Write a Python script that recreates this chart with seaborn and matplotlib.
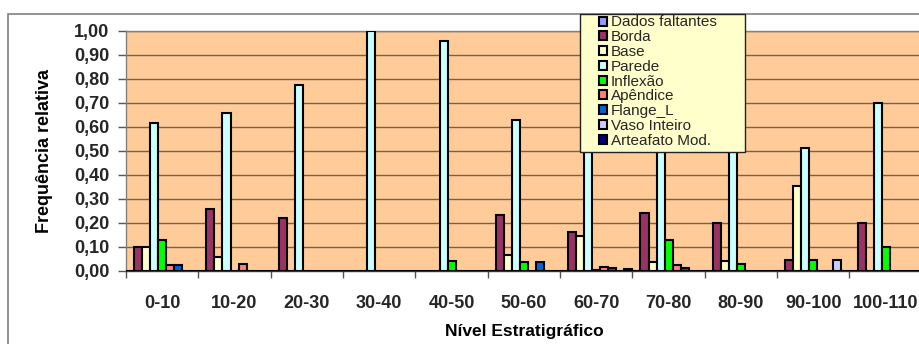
import numpy as np
import pandas as pd
import matplotlib
matplotlib.use("Agg")
import matplotlib.pyplot as plt
from matplotlib.patches import Rectangle, Patch
import seaborn as sns

# data
niveis = ["0-10", "10-20", "20-30", "30-40", "40-50", "50-60",
          "60-70", "70-80", "80-90", "90-100", "100-110"]
tipos = ["Dados faltantes", "Borda", "Base", "Parede", "Inflexão",
         "Apêndice", "Flange_L", "Vaso Inteiro", "Arteafato Mod."]

dados_faltantes = [0, 0, 0, 0, 0, 0, 0, 0, 0, 0, 0]
borda = [0.100, 0.257, 0.222, 0, 0, 0.235, 0.161, 0.243, 0.201, 0.045, 0.201]
base = [0.100, 0.057, 0, 0, 0, 0.068, 0.147, 0.036, 0.042, 0.355, 0]
parede = [0.615, 0.658, 0.775, 1.000, 0.958, 0.629, 0.650, 0.556, 0.729, 0.513, 0.700]
inflexao = [0.128, 0, 0, 0, 0.042, 0.036, 0.006, 0.128, 0.028, 0.045, 0.101]
apendice = [0.024, 0.030, 0, 0, 0, 0, 0.018, 0.024, 0, 0, 0]
flange_l = [0.025, 0, 0, 0, 0, 0.037, 0.012, 0.013, 0, 0, 0]
vaso_inteiro = [0, 0, 0, 0, 0, 0, 0, 0, 0, 0.045, 0]
arteafato_mod = [0, 0, 0, 0, 0, 0, 0.007, 0, 0, 0, 0]

cores = ["#9999ff", "#993366", "#ffffcc", "#ccffff", "#00ff00",
         "#ff8080", "#0066cc", "#ccccff", "#000080"]

series = [dados_faltantes, borda, base, parede, inflexao,
          apendice, flange_l, vaso_inteiro, arteafato_mod]
rows = []
for tipo, vals in zip(tipos, series):
    for nivel, v in zip(niveis, vals):
        rows.append({"nivel": nivel, "tipo": tipo, "freq": v})
df = pd.DataFrame(rows)

sns.set_theme(style="white")
plt.rcParams['font.family'] = ['Liberation Sans', 'DejaVu Sans']

W, H = 920, 344
fig = plt.figure(figsize=(W / 100, H / 100), dpi=100)
fig.patch.set_facecolor("white")
ax = fig.add_axes([126 / W, 1 - 271 / H, 1 - 126 / W + 0.002, (271 - 31) / H])
ax.set_facecolor("#ffcc99")

sns.barplot(data=df, x="nivel", y="freq", hue="tipo", order=niveis,
            hue_order=tipos, palette=cores, width=1.0, gap=0,
            edgecolor="black", linewidth=1.5, saturation=1,
            legend=False, ax=ax, zorder=3)

ax.set_ylim(0, 1.0)
ax.set_xlim(-0.5, len(niveis) - 0.5)
ax.set_yticks(np.arange(0, 1.01, 0.1))
ax.set_yticklabels([f"{t:.2f}".replace(".", ",") for t in np.arange(0, 1.01, 0.1)])
ax.yaxis.grid(True, color="#7a6048", linewidth=1, zorder=0)
ax.set_axisbelow(True)

ax.set_xticks(range(len(niveis)))
ax.set_xticks(np.arange(-0.5, len(niveis), 1), minor=True)
ax.tick_params(axis="x", which="major", length=0, pad=17,
               labelsize=13)
ax.tick_params(axis="x", which="minor", length=5, width=1, color="#555555",
               bottom=True)
ax.tick_params(axis="y", length=6, width=1, color="#555555", pad=6,
               labelsize=13, left=True)
for lab in ax.get_xticklabels() + ax.get_yticklabels():
    lab.set_fontweight("bold")

for side in ["left", "bottom", "top"]:
    ax.spines[side].set_visible(True)
    ax.spines[side].set_color("#808080")
    ax.spines[side].set_linewidth(1)
ax.spines["bottom"].set_color("#333333")
ax.spines["right"].set_visible(False)

ax.set_xlabel("Nível Estratigráfico", fontsize=12.5, fontweight="bold",
              labelpad=9, color="black")
ax.set_ylabel("Frequência relativa", fontsize=13, fontweight="bold",
              labelpad=15, color="black")

# outer chart border
fig.patches.append(Rectangle((8 / W, -0.1), 1.2, 1 - 14 / H + 0.1,
                             transform=fig.transFigure, fill=False,
                             edgecolor="#808080", linewidth=1.2, zorder=0.5))

# legend box
fig.patches.append(Rectangle((580 / W, 1 - 152 / H), (745 - 580) / W, (152 - 14) / H,
                             transform=fig.transFigure, facecolor="#ffffcc",
                             edgecolor="#222222", linewidth=1, zorder=3))
handles = [Patch(facecolor=c, edgecolor="black", linewidth=1.5) for c in cores]
leg = fig.legend(handles, tipos, loc="upper left",
                 bbox_to_anchor=(599 / W, 1 - 15.5 / H),
                 bbox_transform=fig.transFigure, frameon=False,
                 fontsize=11, handlelength=0.52, handleheight=0.52,
                 handletextpad=0.25, labelspacing=0.05, borderpad=0,
                 borderaxespad=0)
leg.set_zorder(5)

fig.savefig("out.png", dpi=100)
